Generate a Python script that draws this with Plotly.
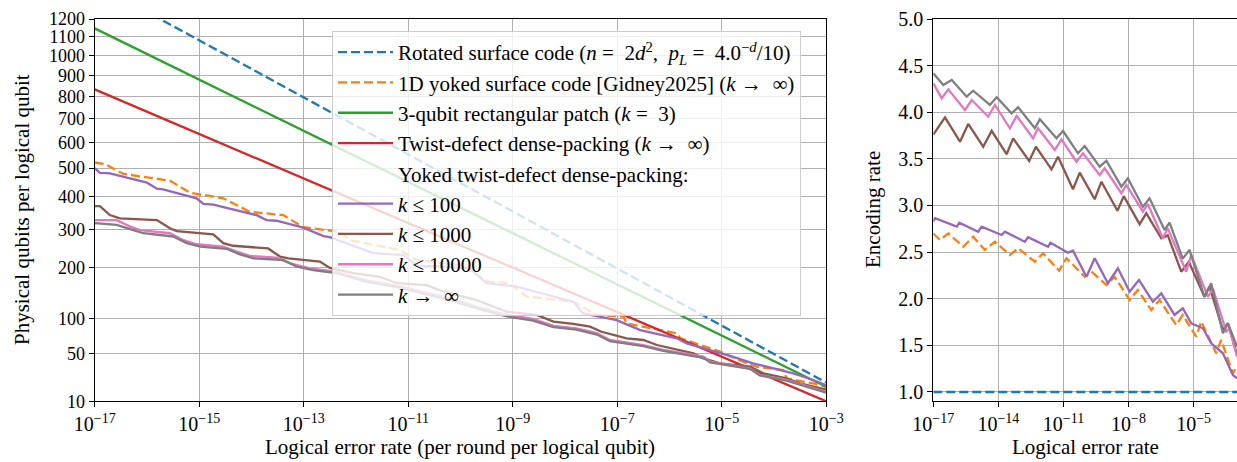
import math
import plotly.graph_objects as go

# ---------------- data (left panel: physical qubits per logical qubit) ----------------
# x values are log10(logical error rate)
surf_logp = [-17, -16, -15, -14, -13, -12, -11, -10, -9, -8, -7, -6, -5, -4, -3]
surf_n = [1412.5, 1241.4, 1081.4, 932.4, 794.5, 667.6, 551.7, 446.9, 353.1, 270.4, 198.6, 137.9, 88.3, 49.7, 22.1]

yoked1d_logp = [-17.0, -16.80, -16.45, -15.56, -15.18, -14.54, -14.03, -13.39, -13.01, -12.31, -12.11,
                -11.16, -10.84, -10.01, -9.45, -9.07, -8.73, -7.84, -7.39, -6.88, -6.82, -5.86, -5.79,
                -5.03, -4.52, -4.33, -3.82, -3.76, -3.25, -3.0]
yoked1d_n = [521, 515, 479, 455, 414, 395, 352, 342, 306, 293, 270,
             244, 219, 207, 169, 166, 139, 129, 105.5, 102.6, 91.7, 76.8, 69.7,
             52.6, 39.6, 36.1, 33, 25.6, 21.5, 19]

rect3_logp = [-17, -10, -3]
rect3_n = [1147, 365, 19]

twist_logp = [-17, -10, -3]
twist_n = [832, 256, 10]

k100_logp = [-17.0, -16.90, -16.71, -16.00, -15.81, -15.69, -15.05, -14.92, -14.73, -13.90, -13.71,
             -13.52, -13.01, -12.62, -12.50, -11.86, -11.67, -11.09, -10.84, -9.82, -9.50, -8.92,
             -7.84, -7.65, -7.01, -6.56, -5.86, -5.67, -5.22, -4.78, -4.40, -3.63, -3.25, -3.0]
k100_n = [500, 483, 481, 448, 427, 425, 395, 377, 375, 342, 327,
          325, 305, 281, 278, 244, 236, 231, 206, 199, 166, 159,
          129, 108, 97, 81.5, 69.7, 63, 54.6, 46.6, 39.6, 29.9, 24.2, 20]

k1000_logp = [-17.0, -16.90, -16.71, -16.52, -15.81, -15.56, -15.43, -14.73, -14.54, -14.35, -13.68,
              -13.45, -13.29, -12.69, -12.50, -12.05, -11.54, -11.22, -10.65, -10.33, -9.69, -9.11,
              -8.54, -8.22, -7.84, -7.52, -7.30, -6.82, -6.50, -6.24, -5.54, -5.35, -5.03, -4.46,
              -4.20, -3.76, -3.50, -3.0]
k1000_n = [370, 370, 342, 332, 327, 303, 295, 286, 262, 255, 248,
           227, 223, 215, 200, 188, 180, 166, 162, 149, 132, 111,
           105.5, 94.5, 91, 86.7, 79, 69.7, 67.4, 60.8, 50.6, 44.8, 39.6, 36.1,
           29.9, 25.6, 21.5, 17]

k10000_logp = [-17.0, -16.58, -16.32, -16.13, -15.56, -15.30, -15.05, -14.54, -14.28, -14.03, -13.52,
               -13.26, -12.88, -12.37, -11.80, -11.16, -10.14, -9.62, -9.11, -8.61, -8.22, -7.78,
               -7.39, -7.14, -6.50, -6.12, -5.35, -5.22, -4.46, -4.27, -3.76, -3.44, -3.0]
k10000_n = [327, 327, 308, 298, 289, 270, 259, 253, 240, 229, 225,
            211, 199, 191, 172, 160, 134, 118, 106, 99, 88, 84,
            77, 67.4, 60.8, 54.6, 46.7, 41.2, 34.5, 28.4, 24.2, 20.3, 15.6]

kinf_logp = [-17.0, -16.58, -16.26, -16.07, -15.50, -15.24, -14.98, -14.47, -14.22, -13.96, -13.39,
             -13.13, -12.82, -12.37, -11.79, -11.16, -10.14, -9.62, -9.11, -8.61, -8.22, -7.78,
             -7.39, -7.14, -6.50, -6.12, -5.35, -5.22, -4.46, -4.27, -3.76, -3.44, -3.0]
kinf_n = [318, 313, 298, 289, 280, 262, 253, 247, 233, 223, 219,
          203, 195, 188, 169, 157, 130, 115, 103, 96, 86, 82,
          75, 66, 59.5, 53.5, 45.5, 40.5, 34, 28, 23.6, 19.8, 15]

# ---------------- data (right panel: encoding rate) ----------------
rate_surf_logp = [-17, -3]
rate_surf = [1.0, 1.0]

rate_1d_logp = [-17.0, -16.69, -16.31, -15.62, -15.16, -14.62, -14.16, -13.47, -13.09, -12.32, -11.94,
                -11.20, -10.86, -10.02, -9.71, -9.02, -8.64, -7.95, -7.57, -6.95, -6.57, -5.80,
                -5.50, -4.88, -4.65, -3.96, -3.73, -3.19, -3.0]
rate_1d = [2.70, 2.63, 2.70, 2.558, 2.665, 2.523, 2.612, 2.469, 2.541, 2.397, 2.487,
           2.301, 2.434, 2.236, 2.29, 2.147, 2.236, 1.987, 2.094, 1.879, 1.987, 1.718,
           1.826, 1.593, 1.754, 1.415, 1.558, 1.20, 1.27]

rate_k100_logp = [-17.0, -16.92, -15.92, -15.80, -14.93, -14.77, -13.85, -13.70, -12.78, -12.63, -11.71,
                  -11.60, -10.79, -10.56, -9.94, -9.56, -8.95, -8.49, -7.95, -7.52, -6.88, -6.49,
                  -5.88, -5.50, -5.11, -4.57, -4.19, -3.65, -3.19, -3.0]
rate_k100 = [2.83, 2.863, 2.773, 2.816, 2.719, 2.773, 2.684, 2.719, 2.612, 2.659, 2.558,
             2.601, 2.494, 2.515, 2.236, 2.434, 2.166, 2.327, 2.076, 2.201, 1.968, 2.058,
             1.826, 1.898, 1.737, 1.683, 1.522, 1.415, 1.182, 1.147]

rate_k1000_logp = [-17.0, -16.46, -15.77, -15.39, -14.70, -14.31, -13.62, -13.32, -12.58, -12.27, -11.55,
                   -11.25, -10.56, -10.25, -9.56, -9.25, -8.51, -8.22, -7.49, -7.18, -6.49, -6.19,
                   -5.57, -5.22, -4.50, -4.27, -3.65, -3.42, -3.0]
rate_k1000 = [3.76, 3.946, 3.684, 3.874, 3.63, 3.80, 3.55, 3.72, 3.477, 3.63, 3.388,
              3.523, 3.174, 3.352, 3.067, 3.255, 2.944, 3.10, 2.80, 2.916, 2.648, 2.68,
              2.29, 2.397, 2.02, 2.13, 1.665, 1.737, 1.40]

rate_k10000_logp = [-17.0, -16.61, -16.31, -15.54, -15.23, -14.47, -14.16, -13.47, -13.16, -12.40, -12.17,
                    -11.40, -11.09, -10.40, -10.10, -9.33, -9.10, -8.33, -8.10, -7.34, -7.11, -6.42,
                    -6.19, -5.34, -5.11, -4.34, -4.11, -3.50, -3.35, -3.0]
rate_k10000 = [4.31, 4.15, 4.246, 4.024, 4.131, 3.952, 4.078, 3.828, 3.960, 3.721, 3.828,
               3.595, 3.710, 3.470, 3.560, 3.327, 3.399, 3.131, 3.220, 2.934, 3.016, 2.648,
               2.755, 2.29, 2.47, 2.02, 2.11, 1.65, 1.68, 1.38]

rate_kinf_logp = [-17.0, -16.54, -16.15, -15.46, -15.16, -14.39, -14.08, -13.39, -13.09, -12.32, -12.09,
                  -11.32, -11.02, -10.33, -10.02, -9.33, -9.02, -8.33, -8.03, -7.34, -7.03, -6.34,
                  -6.11, -5.50, -5.19, -4.50, -4.19, -3.65, -3.42, -3.0]
rate_kinf = [4.418, 4.292, 4.346, 4.167, 4.231, 4.078, 4.160, 3.989, 4.053, 3.828, 3.924,
             3.721, 3.799, 3.560, 3.638, 3.416, 3.480, 3.202, 3.292, 2.987, 3.077, 2.737,
             2.816, 2.43, 2.523, 2.02, 2.166, 1.63, 1.737, 1.486]

left_yticks = [10, 50, 100, 200, 300, 400, 500, 600, 700, 800, 900, 1000, 1100, 1200]
left_xtick_exps = [-17, -15, -13, -11, -9, -7, -5, -3]
right_xtick_exps = [-17, -14, -11, -8, -5]
right_yticks = [1.0, 1.5, 2.0, 2.5, 3.0, 3.5, 4.0, 4.5, 5.0]

# ---------------- styling ----------------
C_BLUE, C_ORANGE, C_GREEN, C_RED = "#1f77b4", "#ff7f0e", "#2ca02c", "#d62728"
C_PURPLE, C_BROWN, C_PINK, C_GRAY = "#9467bd", "#8c564b", "#e377c2", "#7f7f7f"
FONT = "Liberation Serif, Times New Roman, serif"
LW = 2.3
DASH = "9px,4px"
TICK_SIZE = 20
LEFT_YTICK_SIZE = 18
TITLE_SIZE = 21
LEGEND_SIZE = 21
NB = "\u00a0"


def px(exps):
    return [10.0 ** e for e in exps]


def sq(vals):
    # square-root y scale (the reference uses a sqrt-scaled axis)
    return [math.sqrt(v) for v in vals]


EQ = NB + "=" + NB + NB
ARROW = NB + "→" + NB + NB

fig = go.Figure()

left_series = [
    ("Rotated surface code (<i>n</i>" + EQ + "2<i>d</i><sup>2</sup>," + NB + NB + "<i>p<sub>L</sub></i>"
     + EQ + "4.0<sup>−<i>d</i></sup>/10)", surf_logp, surf_n, C_BLUE, DASH),
    ("1D yoked surface code [Gidney2025] (<i>k</i>" + ARROW + "∞)", yoked1d_logp, yoked1d_n, C_ORANGE, DASH),
    ("3-qubit rectangular patch (<i>k</i>" + EQ + "3)", rect3_logp, rect3_n, C_GREEN, "solid"),
    ("Twist-defect dense-packing (<i>k</i>" + ARROW + "∞)", twist_logp, twist_n, C_RED, "solid"),
]
for name, xs, ys, col, dash in left_series:
    fig.add_trace(go.Scatter(x=px(xs), y=sq(ys), mode="lines", name=name,
                             line=dict(color=col, width=LW, dash=dash),
                             xaxis="x", yaxis="y"))

# legend header (no line)
fig.add_trace(go.Scatter(x=[None], y=[None], mode="lines", name="Yoked twist-defect dense-packing:",
                         line=dict(color="rgba(0,0,0,0)", width=LW), xaxis="x", yaxis="y"))

yoked_series = [
    ("<i>k</i>" + NB + "≤" + NB + "100", k100_logp, k100_n, C_PURPLE),
    ("<i>k</i>" + NB + "≤" + NB + "1000", k1000_logp, k1000_n, C_BROWN),
    ("<i>k</i>" + NB + "≤" + NB + "10000", k10000_logp, k10000_n, C_PINK),
    ("<i>k</i>" + ARROW + "∞", kinf_logp, kinf_n, C_GRAY),
]
for name, xs, ys, col in yoked_series:
    fig.add_trace(go.Scatter(x=px(xs), y=sq(ys), mode="lines", name=name,
                             line=dict(color=col, width=LW),
                             xaxis="x", yaxis="y"))

right_series = [
    (rate_surf_logp, rate_surf, C_BLUE, DASH),
    (rate_1d_logp, rate_1d, C_ORANGE, DASH),
    (rate_k100_logp, rate_k100, C_PURPLE, "solid"),
    (rate_k1000_logp, rate_k1000, C_BROWN, "solid"),
    (rate_k10000_logp, rate_k10000, C_PINK, "solid"),
    (rate_kinf_logp, rate_kinf, C_GRAY, "solid"),
]
for xs, ys, col, dash in right_series:
    fig.add_trace(go.Scatter(x=px(xs), y=ys, mode="lines", showlegend=False,
                             line=dict(color=col, width=LW, dash=dash),
                             xaxis="x2", yaxis="y2"))

W, H = 1237, 462
ytop, ybot = 19, 401.3
ydom = [1 - ybot / H, 1 - ytop / H]

axis_common = dict(showgrid=True, gridcolor="#b0b0b0", gridwidth=1, automargin=False,
                   showline=True, mirror=True, linecolor="black", linewidth=1.3,
                   ticks="outside", ticklen=5, tickwidth=1.2, tickcolor="black",
                   zeroline=False)


def tickfont(size):
    return dict(family=FONT, size=size, color="black")


def pow_label(e):
    return "10<sup>−%d</sup>" % (-e)


def title_ann(text, x, y, angle=0):
    return dict(text=text, x=x / W, y=1 - y / H, xref="paper", yref="paper",
                xanchor="center", yanchor="middle", textangle=angle, showarrow=False,
                font=dict(family=FONT, size=TITLE_SIZE, color="black"))


fig.update_layout(
    width=W, height=H,
    margin=dict(l=0, r=0, t=0, b=0, autoexpand=False),
    paper_bgcolor="white", plot_bgcolor="white",
    font=dict(family=FONT, size=LEGEND_SIZE, color="black"),
    xaxis=dict(type="log", range=[-17, -3], domain=[94.7 / W, 826.2 / W], anchor="y",
               tickvals=px(left_xtick_exps), ticktext=[pow_label(e) for e in left_xtick_exps],
               tickfont=tickfont(TICK_SIZE), **axis_common),
    yaxis=dict(range=[math.sqrt(10), math.sqrt(1200)], domain=ydom, anchor="x",
               tickvals=sq(left_yticks), ticktext=[str(v) for v in left_yticks],
               tickfont=tickfont(LEFT_YTICK_SIZE), **axis_common),
    xaxis2=dict(type="log", range=[-17, -3], domain=[933.3 / W, 1.0], anchor="y2",
                tickvals=px(right_xtick_exps), ticktext=[pow_label(e) for e in right_xtick_exps],
                tickfont=tickfont(TICK_SIZE), **axis_common),
    yaxis2=dict(range=[0.9, 5.0], domain=ydom, anchor="x2",
                tickvals=right_yticks, ticktext=["%.1f" % v for v in right_yticks],
                tickfont=tickfont(TICK_SIZE), **axis_common),
    legend=dict(x=332 / W, y=1 - 31 / H, xanchor="left", yanchor="top",
                bgcolor="rgba(255,255,255,0.8)", bordercolor="#cccccc", borderwidth=1,
                font=dict(family=FONT, size=LEGEND_SIZE, color="black"), itemwidth=55),
    annotations=[
        title_ann("Physical qubits per logical qubit", 22, 210, -90),
        title_ann("Logical error rate (per round per logical qubit)", 460, 447),
        title_ann("Encoding rate", 873, 210, -90),
        title_ann("Logical error rate", 1085, 447),
    ],
)

fig.write_html("out.html")
